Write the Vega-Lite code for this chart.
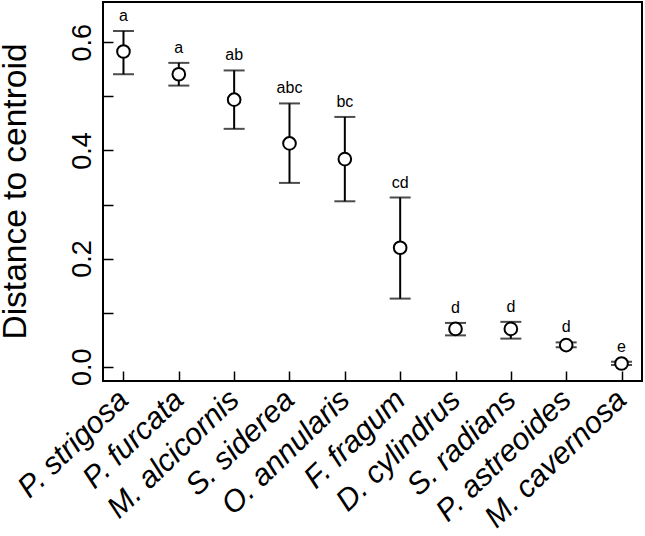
{
  "$schema": "https://vega.github.io/schema/vega-lite/v6.json",
  "autosize": {"type": "none"},
  "padding": {"left": 103, "top": 2, "right": 3, "bottom": 155},
  "width": 539,
  "height": 379,
  "background": "white",
  "config": {
    "font": "Liberation Sans",
    "view": {"stroke": "black", "strokeWidth": 2}
  },
  "data": {
    "values": [
      {"species": "P. strigosa", "mean": 0.583, "lo": 0.541, "hi": 0.621, "letter": "a"},
      {"species": "P. furcata", "mean": 0.541, "lo": 0.520, "hi": 0.562, "letter": "a"},
      {"species": "M. alcicornis", "mean": 0.494, "lo": 0.440, "hi": 0.548, "letter": "ab"},
      {"species": "S. siderea", "mean": 0.413, "lo": 0.340, "hi": 0.487, "letter": "abc"},
      {"species": "O. annularis", "mean": 0.384, "lo": 0.306, "hi": 0.462, "letter": "bc"},
      {"species": "F. fragum", "mean": 0.220, "lo": 0.126, "hi": 0.313, "letter": "cd"},
      {"species": "D. cylindrus", "mean": 0.070, "lo": 0.058, "hi": 0.081, "letter": "d"},
      {"species": "S. radians", "mean": 0.070, "lo": 0.052, "hi": 0.083, "letter": "d"},
      {"species": "P. astreoides", "mean": 0.040, "lo": 0.036, "hi": 0.045, "letter": "d"},
      {"species": "M. cavernosa", "mean": 0.006, "lo": 0.003, "hi": 0.009, "letter": "e"}
    ]
  },
  "encoding": {
    "x": {
      "field": "species",
      "type": "nominal",
      "sort": null,
      "scale": {"type": "point", "padding": 0.37},
      "axis": {
        "title": null,
        "domain": false,
        "tickSize": -10,
        "tickWidth": 1.5,
        "tickColor": "black",
        "labelAngle": -44,
        "labelAlign": "right",
        "labelBaseline": "middle",
        "labelPadding": 24,
        "labelFontSize": 30.5,
        "labelFontStyle": "italic",
        "labelColor": "black",
        "labelLimit": 0,
        "labelOverlap": false,
        "labelBound": false,
        "labelFlush": false
      }
    }
  },
  "layer": [
    {
      "mark": {"type": "rule", "color": "black", "strokeWidth": 2},
      "encoding": {
        "y": {
          "field": "lo",
          "type": "quantitative",
          "scale": {"domain": [-0.0264, 0.6746], "nice": false, "zero": false},
          "axis": {
            "title": "Distance to centroid",
            "titleFontSize": 33.5,
            "titleFontWeight": "normal",
            "titleColor": "black",
            "titleAngle": -90,
            "titleX": -78,
            "titleY": 189,
            "titleAlign": "center",
            "titleBaseline": "alphabetic",
            "domain": false,
            "values": [0, 0.1, 0.2, 0.3, 0.4, 0.5, 0.6],
            "labelExpr": "round(datum.value*10) % 2 == 0 ? format(datum.value, '.1f') : ''",
            "tickSize": -10,
            "tickWidth": 1.5,
            "tickColor": "black",
            "labelAngle": -90,
            "labelAlign": "center",
            "labelBaseline": "alphabetic",
            "labelPadding": 23,
            "labelFontSize": 27,
            "labelColor": "black",
            "labelOverlap": false,
            "labelBound": false,
            "labelFlush": false,
            "grid": false
          }
        },
        "y2": {"field": "hi"}
      }
    },
    {
      "mark": {"type": "tick", "color": "black", "thickness": 2, "size": 21, "orient": "horizontal"},
      "encoding": {"y": {"field": "lo", "type": "quantitative"}}
    },
    {
      "mark": {"type": "tick", "color": "black", "thickness": 2, "size": 21, "orient": "horizontal"},
      "encoding": {"y": {"field": "hi", "type": "quantitative"}}
    },
    {
      "mark": {"type": "point", "shape": "circle", "filled": true, "fill": "white", "stroke": "black", "strokeWidth": 2, "size": 160, "opacity": 1},
      "encoding": {"y": {"field": "mean", "type": "quantitative"}}
    },
    {
      "mark": {"type": "text", "fontSize": 16, "baseline": "alphabetic", "align": "center", "dy": -10, "color": "black"},
      "encoding": {
        "y": {"field": "hi", "type": "quantitative"},
        "text": {"field": "letter"}
      }
    }
  ]
}
